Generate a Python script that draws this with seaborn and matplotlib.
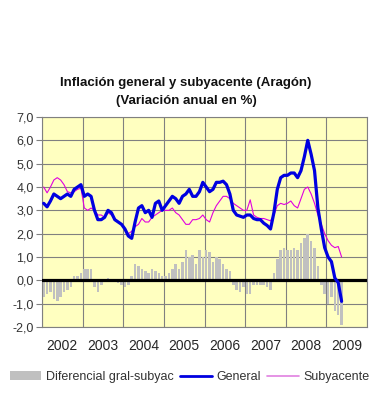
import numpy as np
import pandas as pd
import matplotlib
matplotlib.use("Agg")
import matplotlib.pyplot as plt
from matplotlib.patches import Patch
from matplotlib.lines import Line2D
import seaborn as sns

# Inflación general (%), enero 2002 - mayo 2009
general = [
    3.3, 3.15, 3.4, 3.7, 3.6, 3.5, 3.6, 3.7, 3.6, 3.9, 4.0, 4.1,      # 2002
    3.6, 3.7, 3.6, 3.0, 2.6, 2.6, 2.7, 3.0, 2.9, 2.6, 2.5, 2.4,       # 2003
    2.2, 1.9, 1.8, 2.5, 3.1, 3.2, 2.9, 3.0, 2.7, 3.3, 3.4, 3.0,       # 2004
    3.2, 3.4, 3.6, 3.5, 3.3, 3.6, 3.7, 3.9, 3.6, 3.6, 3.8, 4.2,       # 2005
    4.0, 3.8, 3.9, 4.2, 4.2, 4.25, 4.1, 3.7, 3.0, 2.8, 2.75, 2.7,     # 2006
    2.8, 2.8, 2.65, 2.6, 2.6, 2.45, 2.35, 2.2, 2.9, 3.9, 4.4, 4.5,    # 2007
    4.5, 4.6, 4.6, 4.4, 4.7, 5.3, 6.0, 5.4, 4.7, 3.1, 2.2, 1.4,       # 2008
    1.0, 0.8, 0.1, -0.1, -0.9,                                        # 2009
]

# Inflación subyacente (%)
subyacente = [
    4.0, 3.75, 4.0, 4.3, 4.4, 4.3, 4.1, 3.8, 3.75, 3.8, 3.9, 3.95,
    3.1, 3.0, 3.1, 3.0, 2.8, 2.8, 2.7, 2.9, 2.8, 2.65, 2.5, 2.4,
    2.2, 2.0, 2.1, 2.3, 2.4, 2.65, 2.5, 2.5, 2.7, 2.8, 2.9, 3.0,
    3.0, 3.0, 3.1, 2.9, 2.8, 2.6, 2.4, 2.4, 2.6, 2.6, 2.65, 2.8,
    2.6, 2.5, 2.9, 3.2, 3.4, 3.6, 3.6, 3.5, 3.3, 3.2, 3.1, 3.0,
    3.0, 3.45, 2.8, 2.7, 2.65, 2.65, 2.6, 2.55, 2.8, 3.2, 3.3, 3.25,
    3.3, 3.4, 3.2, 3.1, 3.5, 3.9, 4.0, 3.7, 3.3, 2.8, 2.4, 2.0,
    1.7, 1.5, 1.4, 1.45, 1.0,
]

# Diferencial general - subyacente (barras grises)
diferencial = [
    -0.7, -0.6, -0.5, -0.8, -0.9, -0.7, -0.5, -0.4, -0.3, 0.2, 0.2, 0.3,
    0.5, 0.5, 0.5, -0.3, -0.5, -0.2, 0.0, 0.1, 0.05, -0.05, -0.1, -0.2,
    -0.3, -0.2, 0.2, 0.7, 0.6, 0.5, 0.4, 0.3, 0.5, 0.4, 0.3, 0.2,
    0.2, 0.3, 0.5, 0.7, 0.5, 0.8, 1.3, 1.0, 1.1, 0.7, 1.3, 1.0,
    1.3, 1.2, 0.8, 1.0, 0.9, 0.7, 0.5, 0.4, -0.2, -0.4, -0.5, -0.3,
    -0.6, -0.6, -0.2, -0.2, -0.2, -0.2, -0.3, -0.4, 0.3, 0.9, 1.3, 1.4,
    1.3, 1.3, 1.4, 1.3, 1.6, 1.8, 2.0, 1.7, 1.4, 0.6, -0.2, -0.6,
    -1.0, -0.7, -1.3, -1.5, -1.9,
]

years = [2002, 2003, 2004, 2005, 2006, 2007, 2008, 2009]
yticks = [-2, -1, 0, 1, 2, 3, 4, 5, 6, 7]

meses = pd.date_range("2002-01-01", periods=len(general), freq="MS")
df = pd.DataFrame({
    "t": meses.year + (meses.month - 0.5) / 12,
    "general": general,
    "subyacente": subyacente,
    "diferencial": diferencial,
})

sns.set_style("white")
plt.rcParams["font.family"] = ["Liberation Sans", "DejaVu Sans"]

fig = plt.figure(figsize=(3.81, 4.0), dpi=100)
ax = fig.add_axes([42 / 381, 1 - 327 / 400, 325 / 381, 210 / 400])
ax.set_facecolor("#FFFFC0")

sns.barplot(data=df, x="t", y="diferencial", native_scale=True,
            color="#C0C0C0", saturation=1, width=0.75, errorbar=None,
            linewidth=0, ax=ax, zorder=2)
ax.axhline(0, color="black", lw=2.3, zorder=3)
sns.lineplot(data=df, x="t", y="subyacente", color="#E000E0", lw=0.8,
             ax=ax, zorder=4)
sns.lineplot(data=df, x="t", y="general", color="#0000E0", lw=2.3,
             ax=ax, zorder=5)

ax.set_xlim(2002, 2010)
ax.set_ylim(-2, 7)
ax.set_yticks(yticks)
ax.set_yticklabels([f"{v:.1f}".replace(".", ",") for v in yticks])
ax.set_xticks(range(2002, 2011))
ax.set_xticklabels([])
ax.set_xticks([y + 0.5 for y in years], minor=True)
ax.set_xticklabels([str(y) for y in years], minor=True)
ax.tick_params(axis="x", which="both", length=0, pad=9)
ax.tick_params(axis="y", length=4, width=0.8, color="#808080", pad=2,
               left=True, direction="out")
ax.tick_params(labelsize=9, labelcolor="#333333")
ax.grid(True, which="major", color="#808080", lw=0.8, zorder=1)
ax.set_axisbelow(True)
for s in ax.spines.values():
    s.set_color("#808080")
    s.set_linewidth(0.8)
ax.set_xlabel("")
ax.set_ylabel("")

fig.text(186 / 381, 1 - 83 / 400, "Inflación general y subyacente (Aragón)",
         ha="center", va="center", fontsize=9.5, fontweight="bold", color="#111111")
fig.text(186 / 381, 1 - 101 / 400, "(Variación anual en %)",
         ha="center", va="center", fontsize=9.5, fontweight="bold", color="#111111")

handles = [
    Patch(facecolor="#C0C0C0", edgecolor="none"),
    Line2D([], [], color="#0000E0", lw=2),
    Line2D([], [], color="#E080E0", lw=1.2),
]
labels = ["Diferencial gral-subyac", "General", "Subyacente"]
fig.legend(handles, labels, loc="center", bbox_to_anchor=(190 / 381, 1 - 377 / 400),
           ncol=3, frameon=False, fontsize=9, handlelength=2.5, handleheight=0.7,
           handletextpad=0.4, columnspacing=0.5, labelcolor="#333333")

fig.savefig("out.png", dpi=100)
